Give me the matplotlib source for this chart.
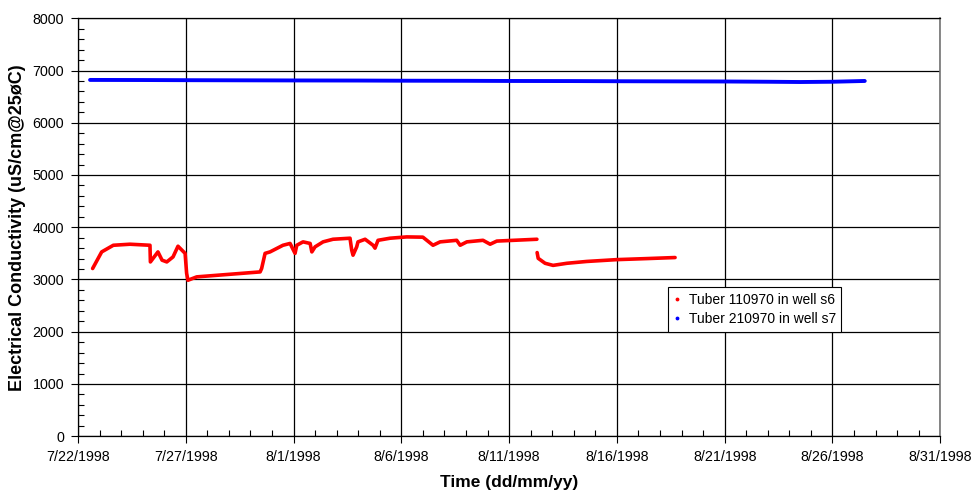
import matplotlib
matplotlib.use('Agg')
import matplotlib.pyplot as plt
import matplotlib.dates as mdates
from matplotlib.ticker import MultipleLocator, FuncFormatter
import numpy as np
import pandas as pd

plt.rcParams['font.family'] = ['Liberation Sans', 'DejaVu Sans']

start = pd.Timestamp('1998-07-22')

# tuber 110970, well s6: (days since 7/22/1998, EC); NaN splits logger gaps
s6_day = [0.68, 1.10, 1.64, 2.41, 3.34, 3.36, 3.71, 3.9, 4.12, 4.41, 4.64, 4.97,
          5.04, 5.10, 5.51, 8.45, 8.52, 8.68, 8.91, 9.51, 9.84, 10.07, 10.15,
          10.44, 10.77, 10.85, 11.0, 11.37, 11.83, 12.62, 12.70, 12.76, 12.93,
          12.99, 13.32, 13.69, 13.78, 13.92, 14.48, 15.25, 16.0, 16.47, 16.8,
          17.57, 17.73, 18.04, 18.79, 19.12, 19.43, 21.29, np.nan, 21.30, 21.35,
          21.67, 22.04, 22.68, 23.6, 24.99, 26.39, 27.7]
s6_ec = [3210, 3528, 3655, 3675, 3655, 3336, 3528, 3370, 3336, 3432, 3637, 3500,
         3120, 2985, 3050, 3145, 3210, 3500, 3528, 3655, 3690, 3500, 3655,
         3720, 3690, 3528, 3625, 3720, 3770, 3790, 3560, 3465, 3625,
         3720, 3770, 3655, 3600, 3750, 3790, 3815, 3810, 3655, 3720,
         3750, 3655, 3720, 3750, 3675, 3735, 3770, np.nan, 3515, 3405,
         3310, 3270, 3310, 3345, 3380, 3400, 3420]

# tuber 210970, well s7
s7_day = [0.56, 3, 5, 8, 10, 13, 15, 18, 20, 23, 25, 28, 30, 32, 33.5, 35, 36.5]
s7_ec = [6820, 6818, 6815, 6812, 6810, 6808, 6805, 6803, 6800, 6798, 6795, 6792,
         6790, 6785, 6780, 6785, 6800]


def to_num(days):
  return mdates.date2num(start) + np.array(days, dtype=float)


def date_label(v, pos):
  d = mdates.num2date(v)
  return f'{d.month}/{d.day}/{d.year}'


def main():
  fig = plt.figure(figsize=(9.71, 4.94), dpi=100)
  ax = fig.add_axes([0.0803, 0.117, 0.888, 0.846])

  red = (1, 0, 0)
  blue = (0, 0, 1)

  ax.plot(to_num(s6_day), s6_ec, color=red, lw=2.6, solid_capstyle='round', zorder=3)
  ax.plot(to_num(s7_day), s7_ec, color=blue, lw=2.8, solid_capstyle='round', zorder=3)
  ax.plot([], [], '.', color=red, ms=3.5, label='Tuber 110970 in well s6')
  ax.plot([], [], '.', color=blue, ms=3.5, label='Tuber 210970 in well s7')

  x0 = mdates.date2num(start)
  ax.set_xlim(x0, x0 + 40)
  ax.set_ylim(0, 8000)

  ax.set_xticks([x0 + 5 * i for i in range(9)])
  ax.xaxis.set_minor_locator(MultipleLocator(1))
  ax.xaxis.set_major_formatter(FuncFormatter(date_label))

  ax.yaxis.set_major_locator(MultipleLocator(1000))
  ax.yaxis.set_minor_locator(MultipleLocator(200))

  ax.tick_params(which='major', direction='out', length=5, width=0.8, labelsize=10.3, pad=5)
  ax.tick_params(which='minor', direction='in', length=4, width=0.8)

  ax.grid(which='major', color='black', lw=0.9)
  ax.set_axisbelow(True)
  for side in ['top', 'right', 'left', 'bottom']:
    ax.spines[side].set_linewidth(0.9)
  ax.spines['right'].set_color('0.45')
  ax.spines['right'].set_linewidth(1.2)

  ax.set_xlabel('Time (dd/mm/yy)', fontsize=12.5, fontweight='bold', labelpad=8)
  ax.set_ylabel('Electrical Conductivity (uS/cm@25øC)', fontsize=13, fontweight='bold', labelpad=5)

  leg = ax.legend(loc='lower left', bbox_to_anchor=(0.684, 0.25), fontsize=10,
                  frameon=True, fancybox=False, edgecolor='black', framealpha=1,
                  handlelength=0.6, handletextpad=0.5, borderpad=0.4, labelspacing=0.4,
                  borderaxespad=0)
  leg.get_frame().set_linewidth(0.8)

  plt.savefig('out.png', dpi=100)


if __name__ == '__main__':
  main()
